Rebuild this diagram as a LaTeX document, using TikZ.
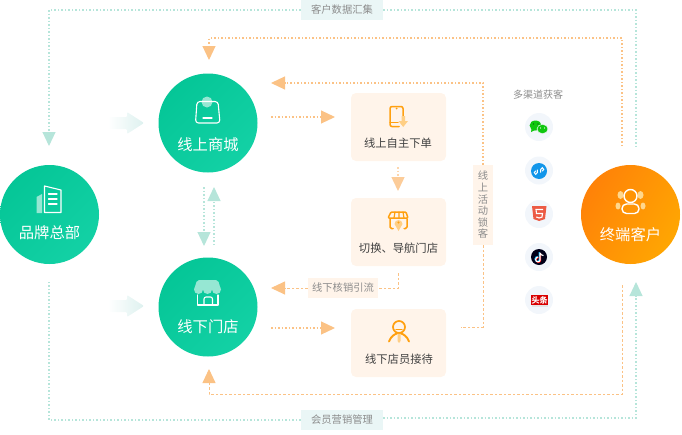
\documentclass[tikz,border=0pt]{standalone}
\usepackage{fontspec}
\setmainfont{Noto Sans CJK SC}
\usetikzlibrary{arrows.meta}
\definecolor{hubdark}{HTML}{05C697}
\definecolor{hublight}{HTML}{13D1A5}
\definecolor{enddark}{HTML}{FF8208}
\definecolor{endlight}{HTML}{FFA602}
\definecolor{cardbg}{HTML}{FFF4EA}
\definecolor{tagbg}{HTML}{EAF6F6}
\definecolor{fattip}{HTML}{DDF1EF}
\definecolor{peach}{HTML}{FBC285}
\definecolor{mint}{HTML}{B6E5DA}
\definecolor{iconor}{HTML}{FFA010}
\definecolor{iconlt}{HTML}{FFCF85}
\definecolor{bubble}{HTML}{F2F6FB}
\definecolor{wxgreen}{HTML}{0FC70F}
\definecolor{miniblue}{HTML}{1296EA}
\definecolor{htmlred}{HTML}{EC5B45}
\begin{document}
\begin{tikzpicture}[
    x=1pt, y=-1pt,
    hub/.style={circle, minimum size=99pt, inner sep=0pt, top color=hubdark, bottom color=hublight, shading angle=45},
    endhub/.style={circle, minimum size=99pt, inner sep=0pt, top color=enddark, bottom color=endlight, shading angle=60},
    hubname/.style={text=white, font=\fontsize{15.3}{15}\selectfont, inner sep=0pt},
    card/.style={rectangle, rounded corners=5pt, fill=cardbg, minimum width=95pt, minimum height=68pt, inner sep=0pt},
    cardname/.style={text=black!75, font=\fontsize{11.3}{12}\selectfont, inner sep=0pt},
    tag/.style={rectangle, fill=tagbg, text=black!45, font=\fontsize{10.3}{11}\selectfont, minimum width=82pt, minimum height=20pt, inner sep=0pt},
    tagpeach/.style={rectangle, fill=cardbg, text=black!45, font=\fontsize{10.3}{11.6}\selectfont, inner sep=0pt},
    bubblenode/.style={circle, fill=bubble, minimum size=28pt, inner sep=0pt},
    mintline/.style={mint, line width=1.1pt, dash pattern=on 1.5pt off 2pt},
    peachline/.style={peach, line width=1.1pt, dash pattern=on 1.5pt off 2pt},
    thinpeach/.style={line width=0.9pt, dash pattern=on 2.5pt off 2pt},
    minthead/.style={mintline, -{Triangle[length=14pt, width=13pt, color=mint]}},
    peachhead/.style={peachline, -{Triangle[length=14pt, width=13pt, color=peach]}},
    fatarrow/.style={left color=white, right color=fattip, rounded corners=1pt},
    iconline/.style={white, line width=1.1pt, line join=round, line cap=round},
    iconfill/.style={fill=white!58!hubdark},
    cardicon/.style={iconor, line width=1.5pt, line join=round, line cap=round}
]
    \useasboundingbox (0,0) rectangle (682,434);

    % Hubs
    \node[hub] (hq) at (49.5,214.5) {};
    \node[hub] (mall) at (208,123) {};
    \node[hub] (store) at (208,307) {};
    \node[endhub] (customer) at (630.5,214.5) {};
    \node[hubname] (hqname) at (49.5,233) {品牌总部};
    \node[hubname] (mallname) at (208,144.5) {线上商城};
    \node[hubname] (storename) at (208,326.5) {线下门店};
    \node[hubname] (customername) at (630.5,235) {终端客户};

    % Cards
    \node[card] (order) at (398.5,127) {};
    \node[card] (guide) at (398.5,232) {};
    \node[card] (staff) at (398.5,343) {};
    \node[cardname] (ordername) at (398,143) {线上自主下单};
    \node[cardname] (guidename) at (398.5,248) {切换、导航门店};
    \node[cardname] (staffname) at (399,359) {线下店员接待};

    % Tags
    \node[tag] (datatag) at (342,10) {客户数据汇集};
    \node[tag] (membertag) at (342,420) {会员营销管理};
    \node[tagpeach, minimum width=70pt, minimum height=20pt] (verifytag) at (343,288) {线下核销引流};
    \node[tagpeach, minimum width=20pt, minimum height=80pt, align=center] (locktag) at (483,205) {线\\上\\活\\动\\锁\\客};

    % Free ends
    \coordinate (hqtop) at (49,146);
    \coordinate (hqbottom) at (49,282);
    \coordinate (customertop) at (636,146);
    \coordinate (customerbottom) at (636,282);
    \coordinate (returntop) at (622,146);
    \coordinate (returnbottom) at (622,285);
    \coordinate (mallhead) at (209,60);
    \coordinate (storehead) at (209,369);
    \coordinate (mallback) at (271,83);
    \coordinate (storeback) at (271,288);
    \coordinate (mallout) at (271,117);
    \coordinate (ordertip) at (335,117);
    \coordinate (storeout) at (271,328);
    \coordinate (stafftip) at (335,328);
    \coordinate (staffout) at (461,327);
    \coordinate (guideout) at (398,273);

    % Customer data loop
    \draw[minthead] (datatag.west) -| (hqtop);
    \draw[mintline] (datatag.east) -| (customertop);
    \draw[mintline] (membertag.west) -| (hqbottom);
    \draw[minthead] (membertag.east |- 0,418) -| (customerbottom);

    % Return loop
    \draw[peachhead] (returntop) |- (209,38) -- (mallhead);
    \draw[peachhead, thinpeach] (returnbottom) |- (209,394) -- (storehead);

    % Online lock-in
    \draw[peachhead] (locktag.north) |- (mallback);
    \draw[peachline, thinpeach] (locktag.south) |- (staffout);

    % Card links
    \draw[peachhead] (mallout) -- (ordertip);
    \draw[peachhead] (storeout) -- (stafftip);
    \draw[peachline, cardbg!40!peach, line width=1.5pt, -{Triangle[length=14pt, width=13pt, color=cardbg!20!peach]}] (398,167) -- (398,191);
    \draw[peachline, thinpeach] (guideout) |- (verifytag.east);
    \draw[peachhead, thinpeach] (verifytag.west) -- (storeback);

    % Between the hubs
    \draw[minthead] (204,187) -- (204,246);
    \draw[minthead] (214,245) -- (214,187);

    % Fat arrows
    \path[fatarrow] (108,117) -- (127,117) -- (127,112) -- (144,123) -- (127,134) -- (127,129) -- (108,129) -- cycle;
    \path[fatarrow] (108,300) -- (127,300) -- (127,295) -- (144,306) -- (127,317) -- (127,312) -- (108,312) -- cycle;

    % Icon of the head office
    \fill[iconfill] (36.5,213) -- (36.5,197) -- (42,194) -- (42,213) -- cycle;
    \draw[iconline] (44.5,186) -- (61,190) -- (61,212.5) -- (44.5,212.5) -- cycle;
    \foreach \y in {194,199,204}
        \draw[iconline] (48.5,\y) -- (57,\y);

    % Icon of the shop
    \fill[iconfill] (207,102) circle (5.5);
    \draw[iconline, rounded corners=3pt] (197,101.5) -- (218,101.5) -- (220,123) -- (195.5,123) -- cycle;
    \draw[iconline] (203,118) -- (212,118);

    % Icon of the store
    \fill[iconfill, rounded corners=2pt] (197,280) -- (218,280) -- (221,290) -- (194,290) -- cycle;
    \foreach \x in {198.5,207.5,216.5}
        \fill[iconfill] (\x,289.5) circle (4.5);
    \draw[iconline] (197.5,295) -- (197.5,305) -- (218,305) -- (218,295);
    \draw[iconline, rounded corners=2pt] (204,304.5) -- (204,297) -- (212.5,297) -- (212.5,304.5);

    % Icon of the customer
    \foreach \x in {620.5,640.5}
        \fill[white!55!endlight] (\x,195) ellipse (3 and 4);
    \foreach \x in {618,643}
        \fill[white!55!endlight] (\x,206) ellipse (2.5 and 3.5);
    \draw[iconline, line width=1.4pt, fill=enddark!50!endlight] (630.5,196) circle (6.5);
    \draw[iconline, line width=1.4pt, rounded corners=4.5pt, fill=enddark!50!endlight] (622,204) rectangle (639,213.5);

    % Card icons
    \draw[cardicon, rounded corners=2pt] (403,117) -- (403,106.5) -- (390,106.5) -- (390,126.5) -- (399,126.5);
    \draw[cardicon] (390,122.5) -- (398,122.5);
    \fill[iconor] (396.5,108.5) circle (1);
    \fill[iconlt] (401.5,116) -- (405,116) -- (405,121) -- (408,121) -- (403.2,127) -- (398.5,121) -- (401.5,121) -- cycle;

    \draw[cardicon, rounded corners=1pt] (391,212) -- (406,212) -- (408,218) -- (388,218) -- cycle;
    \draw[cardicon, line width=1.2pt] (395,212) -- (394,218) (399,212) -- (399,218) (403,212) -- (404,218);
    \draw[cardicon, rounded corners=1.5pt] (390,219) -- (390,228.5) -- (393,228.5) (404,228.5) -- (407,228.5) -- (407,219);
    \fill[iconlt] (398.5,231) -- (394.5,224) arc[start angle=180, end angle=360, radius=4] -- cycle;
    \fill[iconor] (398.5,222.5) circle (1.1);

    \draw[cardicon, line width=1.7pt] (399,327) circle (6);
    \draw[cardicon, line width=1.9pt] (389,341.5) .. controls (391,336) and (395,334) .. (397,333.5);
    \draw[cardicon, line width=1.9pt] (409,341.5) .. controls (407,336) and (403,334) .. (401,333.5);
    \draw[cardicon, line width=1.2pt] (396,329.5) -- (402,329.5);
    \fill[iconlt] (397.5,334) -- (400.5,334) -- (400.5,341) -- (399,343) -- (397.5,341) -- cycle;

    % Channels
    \node[text=black!45, font=\fontsize{10}{11}\selectfont, inner sep=0pt] (channels) at (538,95) {多渠道获客};
    \node[bubblenode] (wechat) at (539,127) {};
    \node[bubblenode] (miniapp) at (539,170.5) {};
    \node[bubblenode] (htmlfive) at (539,214) {};
    \node[bubblenode] (tiktok) at (539,257) {};
    \node[bubblenode] (toutiao) at (539,300) {};

    % WeChat
    \fill[wxgreen] (535.5,125.5) ellipse (6 and 5);
    \fill[wxgreen] (531.5,129) -- (531,132) -- (535,130) -- cycle;
    \draw[bubble, fill=wxgreen, line width=0.5pt] (542.5,129) ellipse (5.5 and 4.7);
    \fill[black!60!wxgreen] (533.5,124) circle (0.7) (538,124) circle (0.7);
    \fill[white] (540.5,128) circle (0.6) (544.5,128) circle (0.6);

    % Mini program
    \fill[miniblue] (539,171) circle (8);
    \draw[white, line width=1pt] (537.3,169.5) -- (537.3,172.5) .. controls (537.3,175) and (534,175) .. (534.3,172.5) .. controls (534.4,171.5) and (535,171) .. (535.8,170.8);
    \draw[white, line width=1pt] (540.7,172.5) -- (540.7,169.5) .. controls (540.7,167) and (544,167) .. (543.7,169.5) .. controls (543.6,170.5) and (543,171) .. (542.2,171.2);

    % HTML5
    \fill[htmlred] (532,206) -- (546.5,206) -- (545,219) -- (539.2,221) -- (533.5,219) -- cycle;
    \draw[white, line width=1.1pt] (543,209.5) -- (536,209.5) -- (536.5,213.5) -- (542.5,213.5) -- (542,217) -- (539.2,218) -- (536.3,217);

    % TikTok
    \fill[black!90!blue] (539,257) circle (8);
    \draw[cyan, line width=1.2pt] (539.3,252) -- (539.3,259.5) .. controls (539.3,262) and (535,262) .. (535,259) .. controls (535,257.5) and (536.5,256.5) .. (537.5,256.5);
    \draw[red!90!white, line width=1.2pt] (540.5,253) -- (540.5,260.5) .. controls (540.5,263) and (536.2,263) .. (536.2,260) .. controls (536.2,258.5) and (537.7,257.5) .. (538.7,257.5);
    \draw[white, line width=1.1pt] (540,252.5) -- (540,260) .. controls (540,262.5) and (535.6,262.5) .. (535.6,259.5) .. controls (535.6,258) and (537,257) .. (538,257) (540,253) .. controls (540.5,254.5) and (542,255.5) .. (543.5,255.5);

    % Toutiao
    \fill[black!10] (532,304) rectangle (548,307);
    \node[fill=red!85!black, text=white, font=\fontsize{8}{8}\selectfont\bfseries, minimum width=17pt, minimum height=10pt, inner sep=0pt] (toutiaomark) at (539.5,300) {头条};
\end{tikzpicture}
\end{document}
